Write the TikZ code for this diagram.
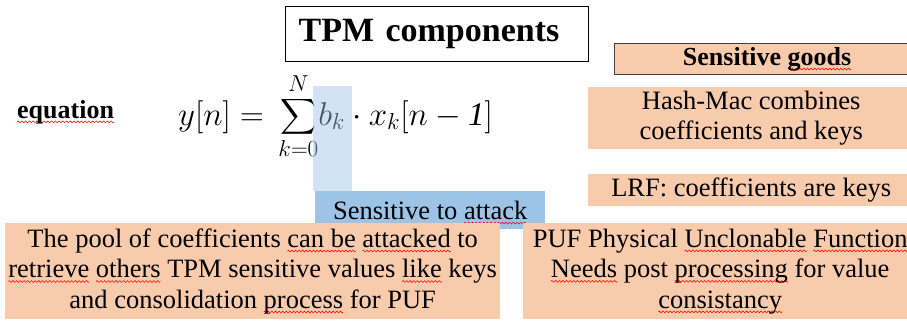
\RequirePackage{fix-cm}
\documentclass[tikz,border=0pt]{standalone}
\usepackage{amsmath}
\usepackage{fontspec}
\setmainfont{Liberation Serif}
\definecolor{peach}{HTML}{F8CBAD}
\definecolor{attackblue}{HTML}{9DC3E6}
\definecolor{framegray}{HTML}{404040}
% spell-check style red wavy underline: a wave tile repeated under a word
\newsavebox\wavetile
\newcommand\wavy[1]{\setbox0\hbox{#1}\rlap{\smash{\lower4.8pt\hbox to\wd0{\xleaders\copy\wavetile\hfil}}}\box0\relax}
\tikzset{
  txt/.style={font=\fontsize{26.5}{30.5}\selectfont, align=center, inner sep=0pt},
  peachbox/.style={txt, fill=peach, anchor=north west},
}
\begin{document}
\begin{tikzpicture}[x=1pt,y=-1pt]
\sbox\wavetile{\tikz[x=1pt,y=1pt]{\useasboundingbox (0,-1) rectangle (3.6,1);
  \draw[red,line width=0.55pt] (0,0) sin (0.9,0.9) cos (1.8,0) sin (2.7,-0.9) cos (3.6,0);}}%
\clip (0,0) rectangle (907,320);
\fill[white] (0,0) rectangle (907,320);

% title
\node[draw=black, line width=1.3pt, minimum height=55pt, anchor=north west,
      inner xsep=13pt, inner ysep=0pt, text width=277pt, align=left,
      font=\fontsize{34}{40}\selectfont\bfseries] (title) at (285,5) {TPM components};

% equation row
\node[font=\fontsize{26}{30}\selectfont\bfseries, anchor=base west, inner sep=0pt] (eqlabel) at (17,117) {\wavy{equation}};
\node[anchor=base west, inner sep=0pt, font=\fontsize{33}{40}\selectfont] (eq) at (178,124)
  {$\displaystyle y[n] = \mkern3mu\sum_{k=0}^{N}\mkern-3mu b_k \cdot x_k[n - \mathit{1}]$};
\fill[attackblue, opacity=0.45] (313,85) rectangle (352,190);
\node[txt, fill=attackblue, minimum width=230pt, minimum height=38pt, anchor=north west] (attack) at (315,190)
  {Sensitive to \wavy{attack}};

% right column
\node[peachbox, draw=framegray, line width=1.2pt, minimum width=305pt, minimum height=31pt,
      font=\fontsize{26}{30}\selectfont\bfseries] (goods) at (614,42) {Sensitive \wavy{goods}};
\node[peachbox, minimum width=326pt, minimum height=62pt] (hash) at (588,86)
  {Hash-Mac combines\\coefficients and keys};
\node[peachbox, minimum width=326pt, minimum height=32pt] (lrf) at (588,173)
  {LRF: coefficients are keys};

% bottom row
\node[peachbox, minimum width=495pt, minimum height=96pt] (pool) at (5,222)
  {The pool of coefficients \wavy{can be} \wavy{attacked} to\\
   \wavy{retrieve} \wavy{others} TPM sensitive values \wavy{like} keys\\
   and consolidation \wavy{process} for PUF};
\node[peachbox, minimum width=394pt, minimum height=96pt] (puf) at (523,222)
  {PUF Physical \wavy{Unclonable} \wavy{Function}\\
   \wavy{Needs} post \wavy{processing} for value\\
   \wavy{consistancy}};
\end{tikzpicture}
\end{document}
